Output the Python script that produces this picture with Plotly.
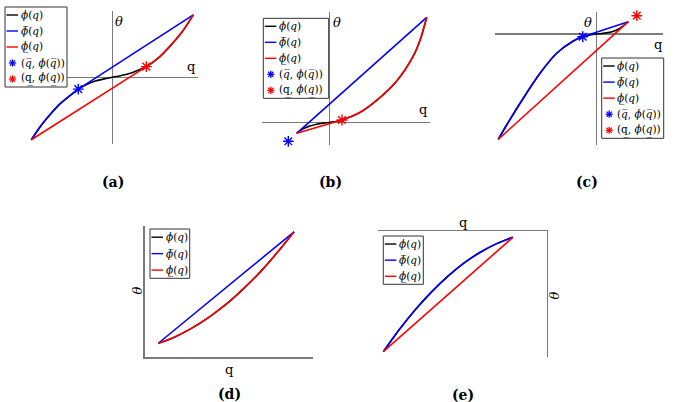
import plotly.graph_objects as go

# ---------------- data ----------------
# panel (a): phi concave on the left, convex on the right
a_q = [-1.0, -0.89, -0.77, -0.65, -0.52, -0.42, -0.31, -0.21, -0.10, 0.0, 0.10, 0.21, 0.31, 0.42, 0.57, 0.71, 0.86, 1.0]
a_phi = [-1.0, -0.79, -0.60, -0.43, -0.29, -0.19, -0.11, -0.06, -0.025, 0.0, 0.025, 0.06, 0.11, 0.17, 0.31, 0.495, 0.724, 1.0]
a_star_bar = [-0.42, -0.19]
a_star_und = [0.42, 0.17]

# panel (b)
b_q = [-0.335, -0.27, -0.20, -0.13, -0.06, 0.0, 0.07, 0.13, 0.305, 0.486, 0.692, 0.863, 0.936, 1.0]
b_phi = [-0.105, -0.062, -0.035, -0.018, -0.008, -0.002, 0.007, 0.022, 0.088, 0.208, 0.393, 0.632, 0.793, 1.0]
b_star_bar = [-0.421, -0.181]
b_star_und = [0.13, 0.022]

# panel (c)
c_q = [-1.0, -0.915, -0.746, -0.576, -0.407, -0.238, -0.142, -0.068, 0.0, 0.084, 0.166, 0.237, 0.321]
c_phi = [-1.0, -0.864, -0.610, -0.373, -0.183, -0.066, -0.026, -0.009, 0.0, 0.008, 0.024, 0.055, 0.117]
c_star_bar = [-0.142, -0.026]
c_star_und = [0.407, 0.174]

# panel (d): convex phi
d_q = [0.082, 0.183, 0.283, 0.383, 0.484, 0.584, 0.685, 0.785, 0.886]
d_phi = [0.105, 0.155, 0.222, 0.305, 0.403, 0.518, 0.648, 0.795, 0.956]

# panel (e): concave phi
e_q = [0.030, 0.126, 0.222, 0.318, 0.414, 0.510, 0.606, 0.703, 0.799]
e_phi = [0.044, 0.221, 0.380, 0.520, 0.642, 0.747, 0.832, 0.900, 0.950]

captions = ["(a)", "(b)", "(c)", "(d)", "(e)"]

OV = "\u0305"   # combining overline
UN = "\u0332"   # combining low line
PHI = "<i>ϕ</i>(<i>q</i>)"
PHI_BAR = "<i>ϕ" + OV + "</i>(<i>q</i>)"
PHI_UND = "<i>ϕ" + UN + "</i>(<i>q</i>)"
QBAR_PT = "(<i>q" + OV + "</i>, <i>ϕ</i>(<i>q" + OV + "</i>))"
QUND_PT = "(q" + UN + ", <i>ϕ</i>(<i>q" + UN + "</i>))"

# ---------------- layout helpers ----------------
W, H = 685, 402
SERIF = "DejaVu Serif"
CAPFONT = "DejaVu Serif"
AXC = "#7a7a7a"
BLUE, RED, BLACK = "#0000ff", "#ff0000", "#000000"
LW = 1.6


def fx(x):
    return x / W


def fy(y):
    return 1 - y / H


panels = [
    dict(data=(a_q, a_phi, a_star_bar, a_star_und), origin=(112.3, 77.3), unit=(81, 62.5),
         box=(27, 11, 198, 144), style="cross",
         theta=(119, 22, 0), qlab=(191, 67), cap=(113, 181.5),
         legend=(5, 7, 67, 87)),
    dict(data=(b_q, b_phi, b_star_bar, b_star_und), origin=(329.3, 122.3), unit=(97.4, 105),
         box=(261.7, 11.7, 430, 145), style="cross",
         theta=(336.7, 22.3, 0), qlab=(423.3, 110), cap=(330, 181.5),
         legend=(263.3, 18.3, 328.7, 98.3)),
    dict(data=(c_q, c_phi, c_star_bar, c_star_und), origin=(596.7, 34), unit=(98.4, 105.3),
         box=(495, 11.7, 663.3, 145), style="cross",
         theta=(588.3, 22.3, 0), qlab=(658.3, 45), cap=(586.7, 181.5),
         legend=(601.7, 58, 663.7, 138.3)),
    dict(data=(d_q, d_phi, None, None), origin=(144.5, 357), unit=(168.8, 131),
         box=(144.5, 226, 313.3, 357), style="bl",
         theta=(136.5, 291, -90), qlab=(229.3, 369.3), cap=(230, 393.5),
         legend=(150, 229, 189.7, 278.3)),
    dict(data=(e_q, e_phi, None, None), origin=(378.3, 357.2), unit=(168.4, 126.2),
         box=(378.3, 231, 546.7, 357.2), style="tr",
         theta=(553.5, 296, -90), qlab=(463.3, 222.3), cap=(463.3, 394.5),
         legend=(383.3, 236, 423.3, 284.3)),
]

fig = go.Figure()
shapes = []
annotations = []


def line_trace(x, y, color, xa, ya, spline):
    return go.Scatter(x=x, y=y, mode="lines", xaxis=xa, yaxis=ya, showlegend=False,
                      hoverinfo="skip", cliponaxis=False,
                      line=dict(color=color, width=LW, shape="spline" if spline else "linear",
                                smoothing=0.8))


def star_trace(pt, color, xa, ya):
    return go.Scatter(x=[pt[0]], y=[pt[1]], mode="markers", xaxis=xa, yaxis=ya,
                      showlegend=False, hoverinfo="skip", cliponaxis=False,
                      marker=dict(symbol="asterisk-open", size=9, color=color,
                                  line=dict(color=color, width=1.4)))


def star_shapes(cx, cy, r, color):
    out = []
    for dx, dy in [(r, 0), (0, r), (0.72 * r, 0.72 * r), (0.72 * r, -0.72 * r)]:
        out.append(dict(type="line", xref="paper", yref="paper",
                        x0=fx(cx - dx), y0=fy(cy - dy), x1=fx(cx + dx), y1=fy(cy + dy),
                        line=dict(color=color, width=1.3), layer="above"))
    return out


for k, p in enumerate(panels, start=1):
    xa = "x" if k == 1 else f"x{k}"
    ya = "y" if k == 1 else f"y{k}"
    xkey = "xaxis" if k == 1 else f"xaxis{k}"
    ykey = "yaxis" if k == 1 else f"yaxis{k}"
    q, phi, sbar, sund = p["data"]
    ox, oy = p["origin"]
    ux, uy = p["unit"]
    x0, y0, x1, y1 = p["box"]

    # envelope split points
    if sbar is None:
        # (d): convex -> upper is chord ; (e): concave -> upper is phi
        qbar = float("-inf") if k == 4 else float("inf")
        qund = float("-inf") if k == 4 else float("inf")
    else:
        qbar, qund = sbar[0], sund[0]

    # phi itself
    fig.add_trace(line_trace(q, phi, BLACK, xa, ya, True))

    # concave envelope (blue)
    up_idx = [i for i in range(len(q)) if q[i] <= qbar + 1e-9]
    if len(up_idx) >= 2:
        fig.add_trace(line_trace([q[i] for i in up_idx], [phi[i] for i in up_idx], BLUE, xa, ya, True))
    start = up_idx[-1] if up_idx else 0
    if start != len(q) - 1:
        fig.add_trace(line_trace([q[start], q[-1]], [phi[start], phi[-1]], BLUE, xa, ya, False))

    # convex envelope (red)
    lo_idx = [i for i in range(len(q)) if q[i] >= qund - 1e-9]
    first = lo_idx[0] if lo_idx else len(q) - 1
    if first != 0:
        fig.add_trace(line_trace([q[0], q[first]], [phi[0], phi[first]], RED, xa, ya, False))
    if len(lo_idx) >= 2:
        fig.add_trace(line_trace([q[i] for i in lo_idx], [phi[i] for i in lo_idx], RED, xa, ya, True))

    if sbar is not None:
        fig.add_trace(star_trace(sbar, BLUE, xa, ya))
        fig.add_trace(star_trace(sund, RED, xa, ya))

    xr = [(x0 - ox) / ux, (x1 - ox) / ux]
    yr = [(oy - y1) / uy, (oy - y0) / uy]
    xd = dict(domain=[fx(x0), fx(x1)], range=xr, anchor=ya, showgrid=False,
              showticklabels=False, ticks="", fixedrange=True)
    yd = dict(domain=[fy(y1), fy(y0)], range=yr, anchor=xa, showgrid=False,
              showticklabels=False, ticks="", fixedrange=True)
    if p["style"] == "cross":
        xd.update(zeroline=True, zerolinecolor=AXC, zerolinewidth=1.5, showline=False)
        yd.update(zeroline=True, zerolinecolor=AXC, zerolinewidth=1.5, showline=False)
    elif p["style"] == "bl":
        xd.update(zeroline=False, showline=True, linecolor=AXC, linewidth=1.5, side="bottom")
        yd.update(zeroline=False, showline=True, linecolor=AXC, linewidth=1.5, side="left")
    else:
        xd.update(zeroline=False, showline=True, linecolor=AXC, linewidth=1.5, side="top")
        yd.update(zeroline=False, showline=True, linecolor=AXC, linewidth=1.5, side="right")
    fig.update_layout({xkey: xd, ykey: yd})

    # axis labels
    tx, ty, tang = p["theta"]
    annotations.append(dict(x=fx(tx), y=fy(ty), xref="paper", yref="paper", text="<i>θ</i>",
                            showarrow=False, textangle=tang, xanchor="center", yanchor="middle",
                            font=dict(family=SERIF, size=13, color="black")))
    qx, qy = p["qlab"]
    annotations.append(dict(x=fx(qx), y=fy(qy), xref="paper", yref="paper", text="q",
                            showarrow=False, xanchor="center", yanchor="middle",
                            font=dict(family=SERIF, size=13, color="black")))
    cx, cy = p["cap"]
    annotations.append(dict(x=fx(cx), y=fy(cy), xref="paper", yref="paper",
                            text="<b>" + captions[k - 1] + "</b>", showarrow=False,
                            xanchor="center", yanchor="middle",
                            font=dict(family=CAPFONT, size=14, color="black")))

    # legend box
    lx0, ly0, lx1, ly1 = p["legend"]
    entries = [("line", BLACK, PHI), ("line", BLUE, PHI_BAR), ("line", RED, PHI_UND)]
    if sbar is not None:
        entries += [("star", BLUE, QBAR_PT), ("star", RED, QUND_PT)]
    shapes.append(dict(type="rect", xref="paper", yref="paper", x0=fx(lx0), y0=fy(ly1),
                       x1=fx(lx1), y1=fy(ly0), fillcolor="white",
                       line=dict(color="#333333", width=1), layer="above"))
    step = (ly1 - ly0) / len(entries)
    for i, (kind, col, lab) in enumerate(entries):
        cyy = ly0 + step * (i + 0.5)
        if kind == "line":
            shapes.append(dict(type="line", xref="paper", yref="paper", x0=fx(lx0 + 1.5),
                               y0=fy(cyy), x1=fx(lx0 + 13), y1=fy(cyy),
                               line=dict(color=col, width=1.4), layer="above"))
        else:
            shapes.extend(star_shapes(lx0 + 7.5, cyy, 3.6, col))
        annotations.append(dict(x=fx(lx0 + 13.5), y=fy(cyy), xref="paper", yref="paper",
                                xanchor="left", yanchor="middle", text=lab, showarrow=False,
                                font=dict(family=SERIF, size=10.5, color="black")))

fig.update_layout(width=W, height=H, autosize=False, margin=dict(l=0, r=0, t=0, b=0),
                  paper_bgcolor="white", plot_bgcolor="rgba(0,0,0,0)", showlegend=False,
                  shapes=shapes, annotations=annotations)

fig.write_html("out.html", config={"displayModeBar": False, "staticPlot": True},
               post_script="document.body.style.margin='0';document.body.style.padding='0';")
